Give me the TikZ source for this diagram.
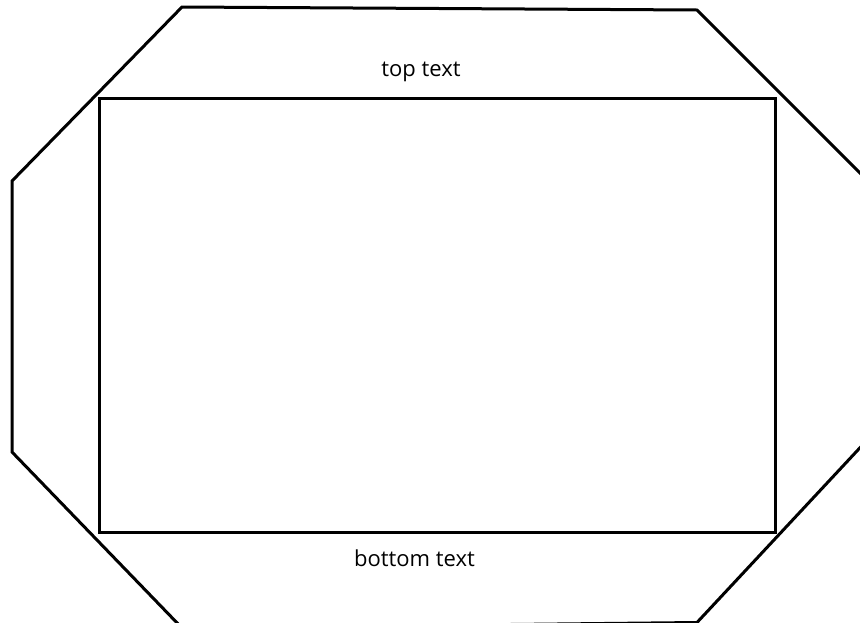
\documentclass[tikz,border=0pt]{standalone}
\usepackage{fontspec}
\setmainfont{Open Sans}
\usetikzlibrary{positioning}

\begin{document}
\begin{tikzpicture}[x=1pt, y=-1pt,
    outline/.style={line width=3pt, line join=miter},
    panel/.style={rectangle, draw, line width=3pt, minimum width=676pt, minimum height=434pt, inner sep=0pt},
    caption/.style={font=\fontsize{22}{26}\selectfont, inner sep=0pt},
  ]
  \useasboundingbox (0,0) rectangle (860,622);
  \clip (0,0) rectangle (860,622);

  % outer cut-corner border
  \draw[outline] (182,7) -- (697,10) -- (870,183) -- (870,437) -- (697,622.5) -- (182,628) -- (12,452) -- (12,181) -- cycle;

  \node[panel] (frame) at (437,315.25) {};
  \node[caption] (toptext) at (421,72) {top text};
  \node[caption] (bottomtext) at (414.5,558) {bottom text};
\end{tikzpicture}
\end{document}
